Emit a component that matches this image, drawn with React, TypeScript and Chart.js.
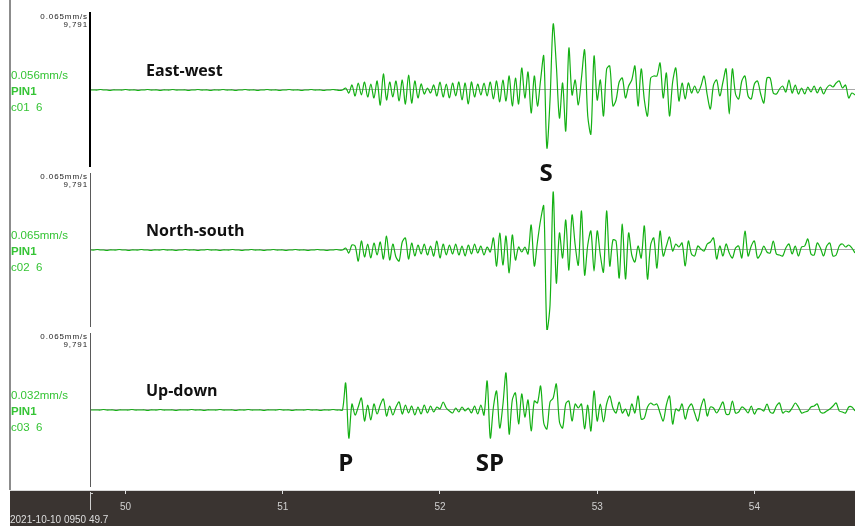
import React, { useEffect, useRef } from "react";
import { Chart, registerables } from "chart.js";

Chart.register(...registerables);

// ---------------- data ----------------
const startTime = 49.78; // s, first sample
const sampleInterval = 0.02; // s
const timeMin = 49.78;
const timeMax = 54.64;
const timeTickStep = 1;
const dateLabel = "2021-10-10 0950 49.7";

const channelTitles = ["East-west", "North-south", "Up-down"];
const stationNames = ["PIN1", "PIN1", "PIN1"];
const channelCodes = ["c01  6", "c02  6", "c03  6"];
const peakLabels = ["0.056mm/s", "0.065mm/s", "0.032mm/s"];
const fullScaleLabels = ["0.065mm/s", "0.065mm/s", "0.065mm/s"];
const fullScaleCounts = ["9,791", "9,791", "9,791"];
const ampFullScale = 80;

const phaseNames = ["S", "P", "SP"];
const phaseTimes = [52.675, 51.4, 52.318];
const phaseChannels = [0, 2, 2];

const ewAmp = [
  0, 0, 0, 0.5, 0, 0, -0.5, 0, 0, 0,
  0, 0.5, 0, 0, 0, -0.5, 0, 0, 0.5, 0,
  0, 0, -0.5, 0, 0, 0, 0.5, 0, 0, 0,
  0, -0.5, 0, 0, 0.5, 0, 0, 0, -0.5, 0,
  0, 0, 0.5, 0, 0, 0, -0.5, 0, 0, 0.5,
  0, 0, 0, -0.5, 0, 0, 0.5, 0, 0, 0,
  -0.5, 0, 0, 0.5, 0, 0, 0, -0.5, 0, 0,
  0.5, 0, 0, 0, -0.5, 0, 0, 0.5, 0, -0.5,
  0, 2, -3, 5, -6, 7, -5, 8, -7, 6,
  -8, 9, -15, 16, -10, 8, -7, 9, -11, 10,
  -14, 15, -13, 9, -8, 6, -4, 2, -3, 5,
  -6, 8, -7, 6, -8, 7, -6, 8, -10, 7,
  -14, 8, -7, 6, -5, 7, -6, 8, -9, 9,
  -12, 10, -11, 14, -16, 12, -14, 22, -8, 18,
  -23, 14, -16, 10, 34, -58, -10, 66, 25, -28,
  7, -41, 42, -5, 10, -15, 12, 40, -26, -44,
  34, -10, 10, -26, 21, 24, -16, -10, 8, 12,
  -8, 4, 10, 24, -16, 21, -10, -26, 12, 14,
  14, 27, -8, 17, -26, 8, 22, -11, 7, -9,
  7, -3, 4, -3, 4, 14, -5, -19, 5, 10,
  -6, 8, 21, -24, 21, -4, -9, 9, 14, -6,
  -9, 6, 9, -4, -13, 12, 12, -3, -4, 1,
  4, -2, 10, -3, 5, -4, 2, -4, 3, -2,
  4, -3, 3, -4, 2, 5, 3, 7, 9, 2,
  5, -8, -3, -5,
];

const nsAmp = [
  0, 0, 0.5, 0, 0, -0.5, 0, 0, 0, 0.5,
  0, 0, -0.5, 0, 0, 0, 0.5, 0, 0, -0.5,
  0, 0, 0, 0.5, 0, 0, 0, -0.5, 0, 0,
  0.5, 0, 0, 0, -0.5, 0, 0, 0.5, 0, 0,
  0, -0.5, 0, 0, 0, 0.5, 0, 0, -0.5, 0,
  0, 0.5, 0, 0, 0, -0.5, 0, 0, 0.5, 0,
  0, 0, -0.5, 0, 0, 0.5, 0, 0, 0, -0.5,
  0, 0, 0.5, 0, 0, -0.5, 0, 0, 0.5, 0,
  0, 2, -3, 5, 4, -11, 9, -7, 6, -8,
  7, -5, 8, -9, 14, -10, 6, -7, -11, 8,
  12, -9, 7, -6, 5, -4, 6, -5, 4, -6,
  9, -8, 6, -5, 5, -4, 6, -5, 4, -6,
  5, -4, 6, -3, 4, -5, 3, -2, 12, -16,
  17, -15, 14, -23, 15, -10, 3, -2, 3, -4,
  25, -16, 8, 30, 44, -80, -55, 58, -33, 17,
  -8, 30, -20, 35, 5, -15, 39, -25, 5, 19,
  -21, 19, -5, -22, 39, -16, 10, 9, -28, 26,
  -29, 17, -5, -12, 4, -8, 24, -29, 5, 12,
  -18, 19, -6, 4, 13, -1, 6, 3, 7, -16,
  9, -4, -6, 4, 1, -1, 6, 8, 12, -9,
  4, -6, 6, -3, -8, 2, 4, -8, 19, -6,
  4, 9, -8, -4, 4, -2, -3, 9, -4, -5,
  -6, 2, 6, -4, 4, -6, 3, 4, 11, -4,
  -5, 7, 2, -6, 4, 7, -6, -5, 4, 6,
  3, 5, 2, -3,
];

const udAmp = [
  0, 0, 0, 0, 0.5, 0, 0, 0, -0.5, 0,
  0, 0, 0, 0.5, 0, 0, 0, 0, -0.5, 0,
  0, 0, 0.5, 0, 0, 0, 0, -0.5, 0, 0,
  0, 0, 0.5, 0, 0, 0, -0.5, 0, 0, 0,
  0, 0.5, 0, 0, 0, 0, -0.5, 0, 0, 0,
  0.5, 0, 0, 0, 0, -0.5, 0, 0, 0, 0,
  0.5, 0, 0, 0, -0.5, 0, 0, 0, 0, 0.5,
  0, 0, 0, -0.5, 0, 0, 0, 0.5, 0, 0,
  0, 27, -28, 6, -5, 3, 12, -11, 5, -10,
  6, -4, 5, 11, -6, 4, -5, 3, 8, -4,
  5, -3, 4, -5, 3, -4, 5, -3, 4, -2,
  3, 1, 8, 2, -1, -3, 2, -2, 3, -1,
  2, -3, 4, -4, 5, -5, 29, -28, 3, 19,
  -18, 5, 37, -24, 10, 17, -14, 16, -7, 10,
  -21, 9, 7, 24, -13, -19, 8, 12, 26, -12,
  -18, 6, 9, -11, 6, 2, 6, -19, 5, -21,
  19, -11, 6, -12, 6, 14, 2, -3, 8, -3,
  1, -6, 6, -3, 14, -9, -8, 3, 7, 5,
  6, -3, -11, 5, 14, -14, 1, -1, 6, -9,
  2, 6, -3, -11, 3, 11, -6, 3, 2, -3,
  2, 8, -4, -4, 9, -3, -2, 3, 1, -3,
  4, -4, 1, 1, -1, 6, -2, -3, 4, 7,
  -3, -1, -2, 2, 7, 3, -3, -2, -1, 3,
  4, 6, -2, -3, -1, 1, 4, 7, -1, -2,
  -3, 3, 3, -1,
];

const traces = [ewAmp, nsAmp, udAmp];
const axisIds = ["yEW", "yNS", "yUD"];

const TRACE_COLOR = "#14b014";
const LABEL_GREEN = "#35c435";

const decorPlugin = {
  id: "seismoDecor",
  beforeDraw(chart: any) {
    const { ctx, chartArea, scales } = chart;
    const W = chart.width;
    const H = chart.height;
    const xs = scales.x;
    ctx.save();
    ctx.fillStyle = "#ffffff";
    ctx.fillRect(0, 0, W, H);
    // left frame line
    ctx.fillStyle = "#8c8c8c";
    ctx.fillRect(9, 0, 2, xs.top);
    // dark time bar
    ctx.fillStyle = "#3a3431";
    ctx.fillRect(10, xs.top, W - 10, H - xs.top);
    ctx.fillStyle = "#d8d8d8";
    ctx.fillRect(10, xs.top, W - 10, 1);

    axisIds.forEach((id, k) => {
      const s = scales[id];
      const top = s.top;
      // amplitude axis line
      if (k === 0) {
        ctx.fillStyle = "#000000";
        ctx.fillRect(89, top + 2, 2, 155);
      } else {
        ctx.fillStyle = "#5a5a5a";
        ctx.fillRect(90, top + 3, 1, 154);
      }
      // full-scale labels
      ctx.fillStyle = "#222222";
      ctx.textAlign = "right";
      ctx.textBaseline = "alphabetic";
      ctx.font = '8px "Liberation Sans", Arial, sans-serif';
      (ctx as any).letterSpacing = "0.9px";
      ctx.fillText(fullScaleLabels[k], 88, top + 8.5);
      ctx.fillText(fullScaleCounts[k], 88, top + 16.5);
      (ctx as any).letterSpacing = "0px";
      // channel labels
      ctx.textAlign = "left";
      ctx.fillStyle = LABEL_GREEN;
      ctx.font = '11.5px "Liberation Sans", Arial, sans-serif';
      ctx.fillText(peakLabels[k], 11, top + 69);
      ctx.font = 'bold 11.5px "Liberation Sans", Arial, sans-serif';
      ctx.fillText(stationNames[k], 11, top + 85);
      ctx.font = '11.5px "Liberation Sans", Arial, sans-serif';
      ctx.fillText(channelCodes[k], 11, top + 100.5);
      // zero line
      const y0 = Math.round(s.getPixelForValue(0)) - 0.5;
      ctx.strokeStyle = "#a8a8a8";
      ctx.lineWidth = 1;
      ctx.beginPath();
      ctx.moveTo(chartArea.left, y0);
      ctx.lineTo(chartArea.right, y0);
      ctx.stroke();
    });
    ctx.restore();
  },
  afterDraw(chart: any) {
    const { ctx, scales } = chart;
    const xs = scales.x;
    ctx.save();
    // channel titles
    ctx.fillStyle = "#111111";
    ctx.textAlign = "left";
    ctx.textBaseline = "alphabetic";
    ctx.font = 'bold 16px "Open Sans", "Noto Sans", sans-serif';
    axisIds.forEach((id, k) => {
      const s = scales[id];
      ctx.fillText(channelTitles[k], 146, s.top + 66);
    });
    // phase picks
    ctx.font = 'bold 24px "Open Sans", "Noto Sans", sans-serif';
    ctx.textAlign = "center";
    phaseNames.forEach((name, i) => {
      const s = scales[axisIds[phaseChannels[i]]];
      const x = xs.getPixelForValue(phaseTimes[i]);
      const y = phaseChannels[i] === 0 ? s.bottom + 11 : s.bottom - 19;
      ctx.fillText(name, x, y);
    });
    // time bar details
    ctx.fillStyle = "#cfcfcf";
    ctx.fillRect(90, xs.top + 2, 1, 18);
    ctx.fillRect(91, xs.top + 3, 2, 1);
    ctx.fillStyle = "#dedede";
    ctx.textAlign = "left";
    ctx.textBaseline = "middle";
    ctx.font = '10px "Liberation Sans", Arial, sans-serif';
    ctx.fillText(dateLabel, 10, xs.top + 30);
    ctx.restore();
  },
};

export default function App() {
  const canvasRef = useRef<HTMLCanvasElement | null>(null);

  useEffect(() => {
    const canvas = canvasRef.current;
    if (!canvas) return;

    const datasets = traces.map((amp, k) => ({
      label: channelTitles[k],
      data: amp.map((v, i) => ({ x: startTime + i * sampleInterval, y: v })),
      yAxisID: axisIds[k],
      borderColor: TRACE_COLOR,
      borderWidth: 1.2,
      pointRadius: 0,
      tension: 0.3,
      fill: false,
    }));

    const yScale = () => ({
      type: "linear" as const,
      position: "right" as const,
      stack: "traces",
      stackWeight: 1,
      min: -ampFullScale,
      max: ampFullScale,
      display: true,
      ticks: { display: false },
      grid: { display: false, drawTicks: false },
      border: { display: false },
    });

    const chart = new Chart(canvas, {
      type: "line",
      data: { datasets },
      options: {
        animation: false,
        responsive: false,
        devicePixelRatio: 1,
        layout: { padding: { left: 91, top: 10, right: 0, bottom: 0 } },
        plugins: {
          legend: { display: false },
          tooltip: { enabled: false },
          title: { display: false },
        },
        scales: {
          x: {
            type: "linear",
            position: "bottom",
            min: timeMin,
            max: timeMax,
            afterFit: (scale: any) => {
              scale.height = 36;
            },
            ticks: {
              stepSize: timeTickStep,
              includeBounds: false,
              color: "#d0d0d0",
              padding: 7,
              maxRotation: 0,
              font: { family: '"Liberation Sans", Arial, sans-serif', size: 10 },
              callback: (v: any) => String(v),
            },
            grid: {
              drawOnChartArea: false,
              drawTicks: true,
              tickLength: 4,
              color: "#e0e0e0",
            },
            border: { display: false },
          },
          yEW: yScale(),
          yNS: yScale(),
          yUD: yScale(),
        } as any,
      },
      plugins: [decorPlugin],
    });

    return () => chart.destroy();
  }, []);

  return (
    <div style={{ position: "absolute", left: 0, top: 0, width: 855, height: 526 }}>
      <canvas ref={canvasRef} width={855} height={526} style={{ display: "block" }} />
    </div>
  );
}
